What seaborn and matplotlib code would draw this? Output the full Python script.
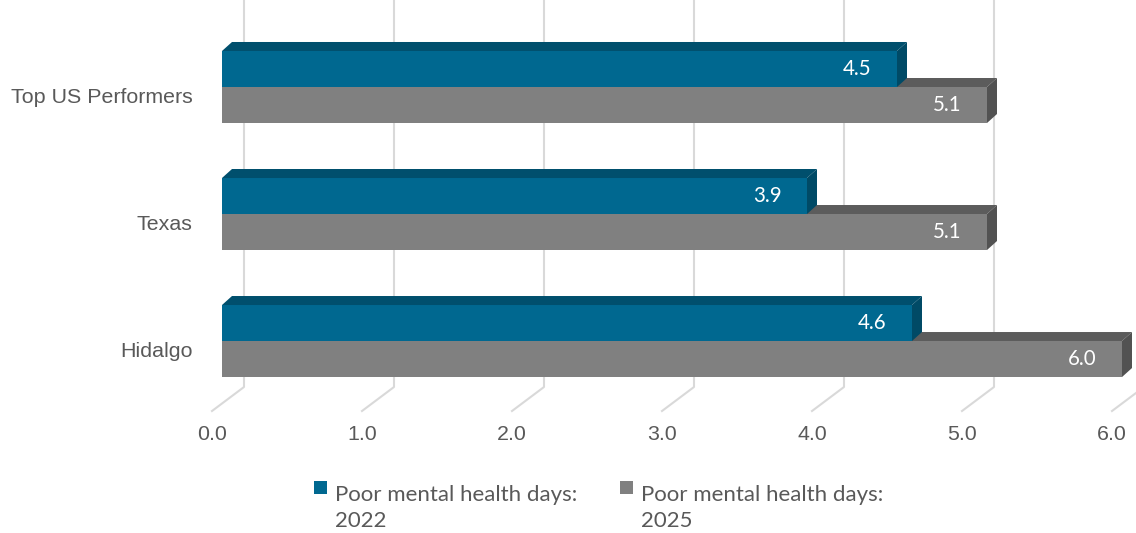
import matplotlib
matplotlib.use("Agg")
import pandas as pd
import matplotlib.pyplot as plt
import seaborn as sns
from matplotlib.patches import Polygon, Rectangle
from matplotlib.transforms import IdentityTransform, ScaledTranslation
from matplotlib.legend_handler import HandlerPatch

categories = ["Top US Performers", "Texas", "Hidalgo"]
days_2022 = [4.5, 3.9, 4.6]
days_2025 = [5.1, 5.1, 6.0]
series_labels = ["Poor mental health days:\n2022", "Poor mental health days:\n2025"]
x_ticks = [0, 1, 2, 3, 4, 5, 6]

blue = "#006890"
gray = "#808080"
face_top = {blue: "#004f6d", gray: "#5c5c5c"}
face_side = {blue: "#004a66", gray: "#525252"}
text_col = "#595959"

df = pd.DataFrame({
    "place": categories * 2,
    "days": days_2022 + days_2025,
    "series": [series_labels[0]] * 3 + [series_labels[1]] * 3,
})

W, H = 1136, 533
fig = plt.figure(figsize=(W / 100, H / 100), dpi=100)
ax = fig.add_axes([222 / W, 122 / H, 900 / W, 411 / H])

sns.barplot(data=df, y="place", x="days", hue="series", order=categories,
            hue_order=series_labels, palette=[blue, gray], saturation=1,
            width=0.567, orient="h", ax=ax, legend=False, linewidth=0, zorder=3)

xlim = (0, 6)
ylim = (2.551, -0.685)
ax.set_xlim(xlim)
ax.set_ylim(ylim)
ax.set_autoscale_on(False)
for s in ax.spines.values():
    s.set_visible(False)
ax.set_xlabel("")
ax.set_ylabel("")
ax.set_xticks(x_ticks)
ax.set_xticklabels([f"{t:.1f}" for t in x_ticks])
ax.tick_params(axis="both", length=0, colors=text_col, labelsize=15.4)
ax.tick_params(axis="x", pad=10)
ax.tick_params(axis="y", pad=21)
for lab in ax.get_xticklabels() + ax.get_yticklabels():
    lab.set_fontfamily("Liberation Sans")
for lab in ax.get_xticklabels():
    lab.set_transform(lab.get_transform() + ScaledTranslation(-0.10, 0, fig.dpi_scale_trans))
for lab in ax.get_yticklabels():
    lab.set_transform(lab.get_transform() + ScaledTranslation(0, -0.08, fig.dpi_scale_trans))

# 3D floor/back-wall gridlines
ident = IdentityTransform()
ax_bottom = ax.transAxes.transform((0, 0))[1]
ax_top = ax.transAxes.transform((0, 1))[1]
for k in x_ticks:
    xd = ax.transData.transform((k, 0))[0]
    ax.plot([xd + 22, xd + 22, xd - 10], [ax_top, ax_bottom + 24, ax_bottom],
            transform=ident, color="#d9d9d9", lw=1.5, zorder=1, clip_on=False)

# 3D faces of the bars
dx, dy = 10, 9
for cont, col, z in [(ax.containers[1], gray, 2.5), (ax.containers[0], blue, 3.5)]:
    for p in cont.patches:
        x0, y0 = ax.transData.transform((p.get_x(), p.get_y()))
        x1, y1 = ax.transData.transform((p.get_x() + p.get_width(), p.get_y() + p.get_height()))
        yb, yt = min(y0, y1), max(y0, y1)
        top = [(x0, yt), (x1, yt), (x1 + dx, yt + dy), (x0 + dx, yt + dy)]
        side = [(x1, yb), (x1, yt), (x1 + dx, yt + dy), (x1 + dx, yb + dy)]
        ax.add_patch(Polygon(top, closed=True, transform=ident, facecolor=face_top[col],
                             edgecolor="none", zorder=z, clip_on=False))
        ax.add_patch(Polygon(side, closed=True, transform=ident, facecolor=face_side[col],
                             edgecolor="none", zorder=z, clip_on=False))
        v = p.get_width()
        ax.annotate(f"{v:.1f}", xy=(v, p.get_y() + p.get_height() / 2),
                    xytext=(-18.5, 0), textcoords="offset points", ha="right", va="center",
                    color="white", fontsize=14.8, fontfamily="Lato", zorder=5)

ax.set_xlim(xlim)
ax.set_ylim(ylim)


class TopSquare(HandlerPatch):
    def create_artists(self, legend, orig_handle, xdescent, ydescent, width, height,
                       fontsize, trans):
        r = Rectangle((-xdescent, -ydescent + 0.95 * fontsize), 0.58 * fontsize, 0.58 * fontsize,
                      facecolor=orig_handle.get_facecolor(), edgecolor="none", transform=trans)
        return [r]


handles = [Rectangle((0, 0), 1, 1, facecolor=c) for c in [blue, gray]]
leg = fig.legend(handles, series_labels, loc="upper left", bbox_to_anchor=(303 / W, 1 - 474 / H),
                 ncol=2, frameon=False, prop={"family": "Lato", "size": 16},
                 labelcolor=text_col, handlelength=0.6, handleheight=0.6, handletextpad=0.36,
                 columnspacing=1.9, borderpad=0, handler_map={Rectangle: TopSquare()})
for t in leg.get_texts():
    t.set_linespacing(1.38)

fig.savefig("out.png", dpi=100)
